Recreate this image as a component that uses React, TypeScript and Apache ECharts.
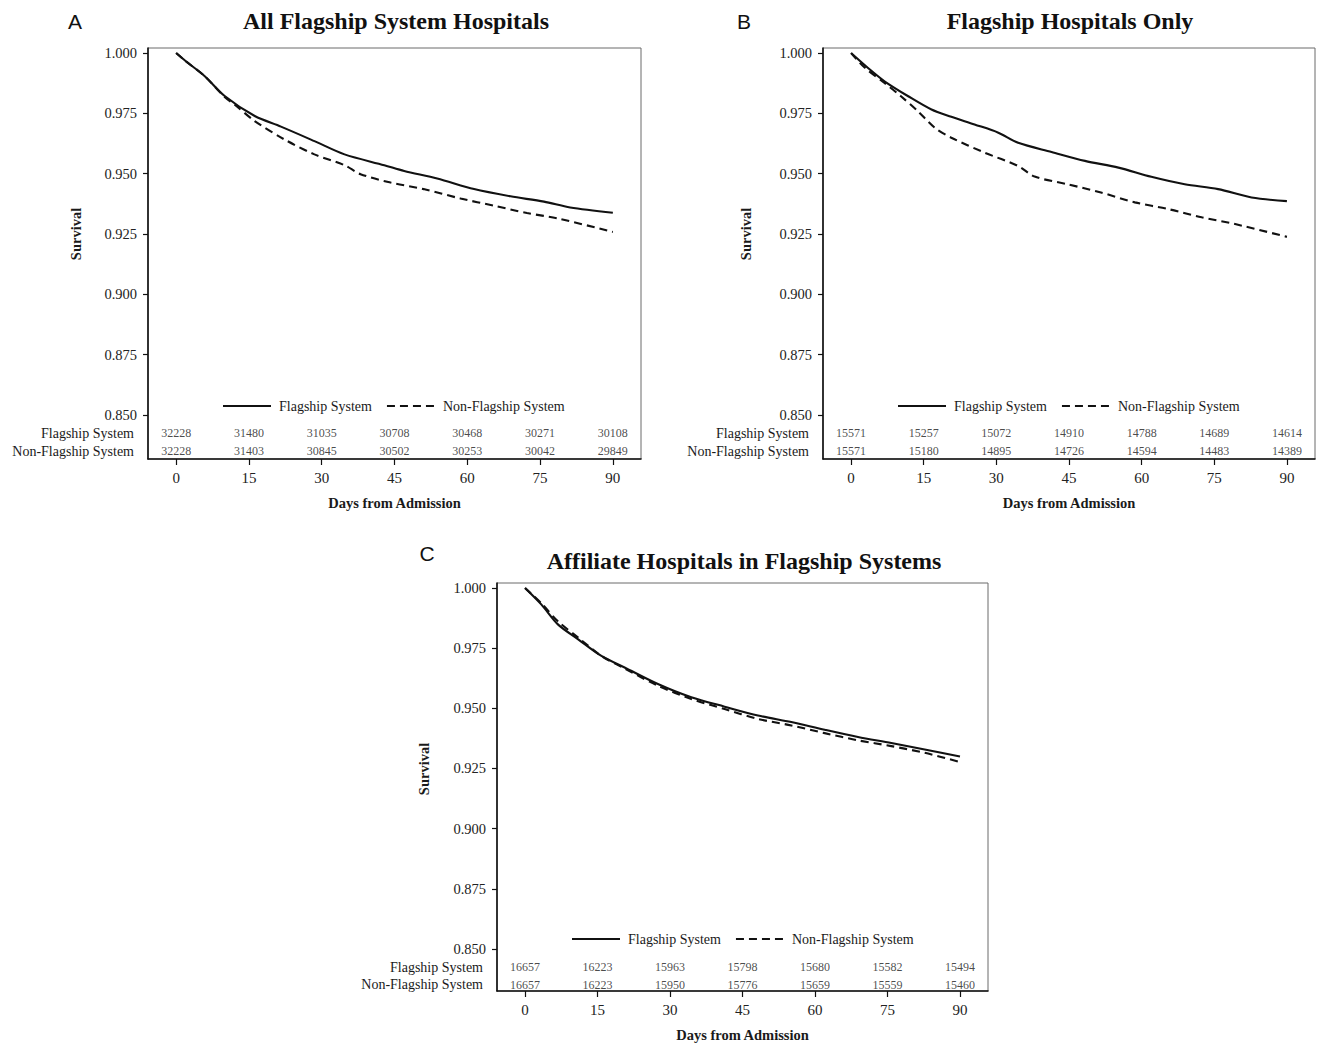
import React, { useEffect, useRef } from "react";
import * as echarts from "echarts";

// ---------- data ----------
const DAYS = [0, 15, 30, 45, 60, 75, 90];
const Y_TICKS = [0.85, 0.875, 0.9, 0.925, 0.95, 0.975, 1.0];
const SERIES_NAMES = ["Flagship System", "Non-Flagship System"];
const ROW_LABELS = ["Flagship System", "Non-Flagship System"];
const PANEL_LETTERS = ["A", "B", "C"];
const PANEL_TITLES = [
  "All Flagship System Hospitals",
  "Flagship Hospitals Only",
  "Affiliate Hospitals in Flagship Systems",
];

// numbers at risk
const A_RISK_FLAG = [32228, 31480, 31035, 30708, 30468, 30271, 30108];
const A_RISK_NON = [32228, 31403, 30845, 30502, 30253, 30042, 29849];
const B_RISK_FLAG = [15571, 15257, 15072, 14910, 14788, 14689, 14614];
const B_RISK_NON = [15571, 15180, 14895, 14726, 14594, 14483, 14389];
const C_RISK_FLAG = [16657, 16223, 15963, 15798, 15680, 15582, 15494];
const C_RISK_NON = [16657, 16223, 15950, 15776, 15659, 15559, 15460];

// survival curves [day, survival]
const A_FLAG = [
  [0, 1.0], [2, 0.9966], [5.9, 0.9904], [10, 0.9822], [16.2, 0.9739],
  [21.6, 0.9695], [28.5, 0.9635], [34.7, 0.958], [42.9, 0.9535], [47, 0.9511],
  [53.8, 0.948], [61.4, 0.9436], [68.9, 0.9406], [75.8, 0.9384], [81.2, 0.936], [90, 0.9338],
];
const A_NON = [
  [0, 1.0], [2, 0.9966], [5.9, 0.9904], [10, 0.9818], [12, 0.9787], [16.2, 0.9718],
  [22.3, 0.9642], [28.5, 0.958], [34.7, 0.9535], [38, 0.9498], [44.2, 0.9463],
  [51, 0.9436], [58.6, 0.9397], [65.5, 0.9367], [72.3, 0.9337], [79.2, 0.9312], [90, 0.9258],
];
const B_FLAG = [
  [0, 1.0], [3.5, 0.9938], [6.9, 0.9883], [11.8, 0.9821], [16.6, 0.9766], [20.7, 0.9736],
  [25.5, 0.9704], [30.4, 0.967], [34.5, 0.9628], [41.4, 0.959], [48.3, 0.9553],
  [55.2, 0.9525], [62, 0.9487], [68.9, 0.9456], [75.8, 0.9436], [82.7, 0.9401], [90, 0.9386],
];
const B_NON = [
  [0, 1.0], [2.8, 0.994], [6.9, 0.9876], [10.3, 0.9821], [13.8, 0.9759], [17.3, 0.969],
  [20.7, 0.9649], [27.6, 0.9587], [34.5, 0.9532], [37.9, 0.9488], [44.7, 0.9456],
  [51.6, 0.9422], [58.6, 0.9381], [65.5, 0.9353], [72.4, 0.9319], [79.3, 0.9291], [90, 0.9238],
];
const C_FLAG = [
  [0, 1.0], [3.4, 0.9931], [6.8, 0.9849], [11, 0.9787], [15.8, 0.9718], [20.6, 0.967],
  [27.5, 0.9601], [34.4, 0.9546], [41.3, 0.9507], [48.2, 0.947], [55.1, 0.9443],
  [62, 0.9411], [68.9, 0.9381], [75.8, 0.9356], [82.7, 0.9329], [90, 0.93],
];
const C_NON = [
  [0, 1.0], [3.4, 0.9936], [6.8, 0.9862], [11, 0.9794], [15.8, 0.9718], [20.6, 0.9666],
  [27.5, 0.9594], [34.4, 0.9539], [41.3, 0.9497], [48.2, 0.9456], [55.1, 0.9429],
  [62, 0.9397], [68.9, 0.9367], [75.8, 0.9343], [82.7, 0.9315], [90, 0.9277],
];

// ---------- layout (positions/styles) ----------
const ROW_Y = [0.8423, 0.835]; // vertical position of the at-risk rows, in axis units
const FONT = '"Liberation Serif", "Times New Roman", serif';
const SANS = '"Liberation Sans", Arial, sans-serif';
const X_MIN = -5.8;
const X_MAX = 95.8;

const LAYOUT = [
  { left: 148, top: 48, width: 493, height: 411, yMin: 0.8317, yMax: 1.0021,
    letter: [75, 21], title: [396, 21], ylab: [76, 234], legend: [222, 399] },
  { left: 823, top: 48, width: 492, height: 411, yMin: 0.8317, yMax: 1.0021,
    letter: [744, 21], title: [1070, 21], ylab: [746, 234], legend: [897, 399] },
  { left: 497, top: 583, width: 491, height: 408, yMin: 0.8325, yMax: 1.0021,
    letter: [427, 553], title: [744, 561], ylab: [424, 769], legend: [571, 932] },
];

const CURVES = [
  [A_FLAG, A_NON],
  [B_FLAG, B_NON],
  [C_FLAG, C_NON],
];
const RISKS = [
  [A_RISK_FLAG, A_RISK_NON],
  [B_RISK_FLAG, B_RISK_NON],
  [C_RISK_FLAG, C_RISK_NON],
];

function buildOption() {
  const grid: any[] = [];
  const xAxis: any[] = [];
  const yAxis: any[] = [];
  const series: any[] = [];
  const legend: any[] = [];
  const graphic: any[] = [];

  LAYOUT.forEach((L, p) => {
    grid.push({
      left: L.left,
      top: L.top,
      width: L.width,
      height: L.height,
      show: true,
      borderColor: "#6a6a6a",
      borderWidth: 1,
      backgroundColor: "transparent",
    });
    xAxis.push({
      type: "value",
      gridIndex: p,
      min: X_MIN,
      max: X_MAX,
      name: "Days from Admission",
      nameLocation: "middle",
      nameGap: 36,
      nameTextStyle: { fontFamily: FONT, fontSize: 14.5, fontWeight: "bold", color: "#1a1a1a" },
      axisLine: { onZero: false, lineStyle: { color: "#111", width: 1.6 } },
      axisTick: { show: true, length: 6, customValues: DAYS, lineStyle: { color: "#111", width: 1.2 } },
      axisLabel: {
        customValues: DAYS,
        margin: 11,
        fontFamily: FONT,
        fontSize: 15,
        color: "#222",
        formatter: (v: number) => String(Math.round(v)),
      },
      splitLine: { show: false },
    });
    yAxis.push({
      type: "value",
      gridIndex: p,
      min: L.yMin,
      max: L.yMax,
      axisLine: { onZero: false, lineStyle: { color: "#111", width: 1.6 } },
      axisTick: { show: true, length: 5, customValues: Y_TICKS, lineStyle: { color: "#111", width: 1.2 } },
      axisLabel: {
        customValues: [...ROW_Y, ...Y_TICKS],
        margin: 11,
        fontFamily: FONT,
        fontSize: 14.5,
        color: "#222",
        formatter: (v: number) => {
          const i = ROW_Y.findIndex((r) => Math.abs(r - v) < 1e-6);
          return i >= 0 ? `{row|${ROW_LABELS[i]}}` : v.toFixed(3);
        },
        rich: {
          row: { fontFamily: FONT, fontSize: 14, color: "#1a1a1a", padding: [0, 3, 0, 0] },
        },
      },
      splitLine: { show: false },
    });

    CURVES[p].forEach((curve, k) => {
      series.push({
        type: "line",
        name: SERIES_NAMES[k],
        xAxisIndex: p,
        yAxisIndex: p,
        data: curve,
        symbol: "none",
        smooth: 0.3,
        lineStyle: {
          color: "#111",
          width: 2.1,
          type: k === 0 ? "solid" : [8, 5],
        },
        itemStyle: { color: "#111" },
        z: 3,
      });
    });

    RISKS[p].forEach((row, k) => {
      series.push({
        type: "scatter",
        name: "atrisk-" + p + "-" + k,
        xAxisIndex: p,
        yAxisIndex: p,
        data: DAYS.map((d, i) => [d, ROW_Y[k], row[i]]),
        symbolSize: 1,
        itemStyle: { color: "rgba(255,255,255,0)" },
        silent: true,
        label: {
          show: true,
          position: "inside",
          fontFamily: FONT,
          fontSize: 12,
          color: "#1a1a1a",
          textBorderWidth: 0,
          textBorderColor: "transparent",
          textShadowBlur: 0,
          formatter: (prm: any) => String(prm.value[2]),
        },
        z: 4,
      });
    });

    legend.push({
      left: L.legend[0],
      top: L.legend[1],
      padding: 0,
      itemWidth: 48,
      itemHeight: 14,
      itemGap: 14,
      selectedMode: false,
      data: SERIES_NAMES,
      itemStyle: { opacity: 0 },
      textStyle: { fontFamily: FONT, fontSize: 14, color: "#1a1a1a", padding: [0, 0, 0, 3] },
    });

    graphic.push(
      {
        type: "text",
        x: L.letter[0],
        y: L.letter[1],
        style: {
          text: PANEL_LETTERS[p],
          fontFamily: SANS,
          fontSize: 21,
          fill: "#111",
          textAlign: "center",
          textVerticalAlign: "middle",
        },
      },
      {
        type: "text",
        x: L.title[0],
        y: L.title[1],
        style: {
          text: PANEL_TITLES[p],
          fontFamily: FONT,
          fontSize: 24,
          fontWeight: "bold",
          fill: "#111",
          textAlign: "center",
          textVerticalAlign: "middle",
        },
      },
      {
        type: "text",
        x: L.ylab[0],
        y: L.ylab[1],
        rotation: Math.PI / 2,
        style: {
          text: "Survival",
          fontFamily: FONT,
          fontSize: 14.5,
          fontWeight: "bold",
          fill: "#1a1a1a",
          textAlign: "center",
          textVerticalAlign: "middle",
        },
      }
    );
  });

  return {
    animation: false,
    backgroundColor: "#ffffff",
    grid,
    xAxis,
    yAxis,
    series,
    legend,
    graphic,
  };
}

export default function App() {
  const ref = useRef<HTMLDivElement>(null);
  useEffect(() => {
    if (!ref.current) return;
    const chart = echarts.init(ref.current, undefined, { renderer: "svg" });
    chart.setOption(buildOption() as any);
    return () => chart.dispose();
  }, []);
  return (
    <div
      ref={ref}
      style={{ position: "absolute", left: 0, top: 0, width: 1322, height: 1045, background: "#fff" }}
    />
  );
}
